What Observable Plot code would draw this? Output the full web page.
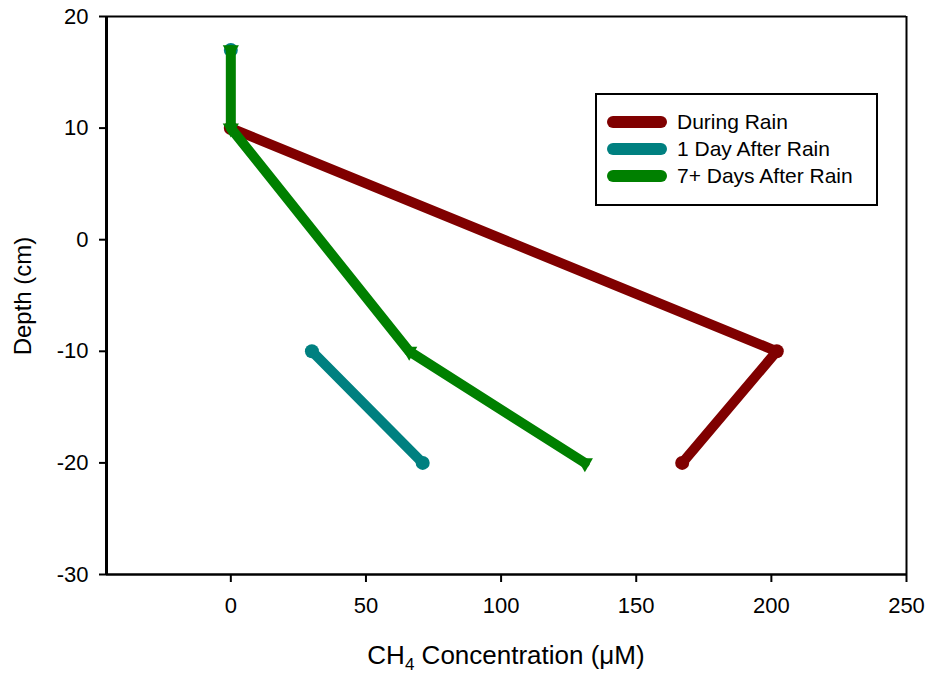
<!DOCTYPE html>
<html><head><meta charset="utf-8">
<script src="https://cdn.jsdelivr.net/npm/d3@7"></script>
<script src="https://cdn.jsdelivr.net/npm/@observablehq/plot@0.6"></script>
<style>
body{margin:0;background:#fff;font-family:"Liberation Sans",Arial,sans-serif}
#wrap{position:relative;width:927px;height:677px;overflow:hidden}
.t{position:absolute;color:#000;white-space:nowrap}
#yt{left:23px;top:296px;font-size:24px;transform:translate(-50%,-50%) rotate(-90deg)}
#legend{position:absolute;left:595px;top:93px;width:283px;height:113px;border:2px solid #000;box-sizing:border-box}
.row{position:absolute;left:10px;height:24px;display:flex;align-items:center;font-size:21px}
.sw{width:60px;height:12px;border-radius:6px;margin-right:10px}
</style></head><body><div id="wrap"></div>
<script>
const seriesNames = ["During Rain", "1 Day After Rain", "7+ Days After Rain"];
const seriesColors = ["#800000", "#008080", "#008000"];
const duringDepth = [10, -10, -20];
const duringConc = [0, 202, 167];
const oneDayDepth = [17, 10, -10, -20];
const oneDayConc = [0, null, 30, 71];
const sevenDepth = [17, 10, -10, -20];
const sevenConc = [0, 0, 66, 131];
const xTicks = [0, 50, 100, 150, 200, 250];
const yTicks = [-30, -20, -10, 0, 10, 20];
const xDomain = [-46, 250];
const yDomain = [-30, 20];

const mk = (depth, conc, s) => depth.map((d, i) => ({series: s, depth: d, conc: conc[i]}));
const during = mk(duringDepth, duringConc, seriesNames[0]);
const oneDay = mk(oneDayDepth, oneDayConc, seriesNames[1]);
const seven = mk(sevenDepth, sevenConc, seriesNames[2]);
const def = a => a.filter(d => d.conc != null);
const fmt = d => String(d);

const plot = Plot.plot({
  width: 927, height: 677,
  marginLeft: 106, marginRight: 21, marginTop: 16, marginBottom: 103,
  x: {domain: xDomain},
  y: {domain: yDomain},
  style: {fontFamily: '"Liberation Sans", Arial, sans-serif', fontSize: "22px", color: "#000", background: "#fff", overflow: "visible"},
  marks: [
    Plot.line(during, {x: "conc", y: "depth", stroke: seriesColors[0], strokeWidth: 10, strokeLinecap: "round", strokeLinejoin: "round"}),
    Plot.dot(during, {x: "conc", y: "depth", fill: seriesColors[0], r: 7}),
    Plot.line(oneDay, {x: "conc", y: "depth", stroke: seriesColors[1], strokeWidth: 10, strokeLinecap: "round", strokeLinejoin: "round"}),
    Plot.dot(def(oneDay), {x: "conc", y: "depth", fill: seriesColors[1], r: 7}),
    Plot.line(seven, {x: "conc", y: "depth", stroke: seriesColors[2], strokeWidth: 10, strokeLinecap: "round", strokeLinejoin: "round"}),
    Plot.dot(seven, {x: "conc", y: "depth", fill: seriesColors[2], symbol: "triangle", rotate: 180, r: 6}),
    Plot.ruleX([xDomain[1]], {stroke: "#000", strokeWidth: 2}),
    Plot.ruleY([yDomain[1]], {stroke: "#000", strokeWidth: 2}),
    Plot.ruleX([xDomain[0]], {stroke: "#000", strokeWidth: 3}),
    Plot.ruleY([yDomain[0]], {stroke: "#000", strokeWidth: 2.5}),
    Plot.axisX({ticks: xTicks, tickFormat: fmt, tickSize: 8, tickPadding: 15, fontSize: 22, label: null, strokeWidth: 2}),
    Plot.axisY({ticks: yTicks, tickFormat: fmt, tickSize: 7, tickPadding: 11, fontSize: 22, label: null, strokeWidth: 2})
  ]
});
const wrap = document.getElementById("wrap");
wrap.appendChild(plot);

const xt = document.createElement("div");
xt.className = "t"; xt.style.cssText = "left:0;width:1012px;top:640px;font-size:26px;text-align:center";
xt.innerHTML = "CH<sub style='font-size:17px'>4</sub> Concentration (\u03bcM)";
wrap.appendChild(xt);
const yt = document.createElement("div");
yt.className = "t"; yt.id = "yt"; yt.textContent = "Depth (cm)";
wrap.appendChild(yt);

const lg = document.createElement("div"); lg.id = "legend";
seriesNames.forEach((n, i) => {
  const r = document.createElement("div"); r.className = "row";
  r.style.top = (15 + i * 27) + "px";
  r.innerHTML = `<div class="sw" style="background:${seriesColors[i]}"></div><span>${n}</span>`;
  lg.appendChild(r);
});
wrap.appendChild(lg);
</script></body></html>
